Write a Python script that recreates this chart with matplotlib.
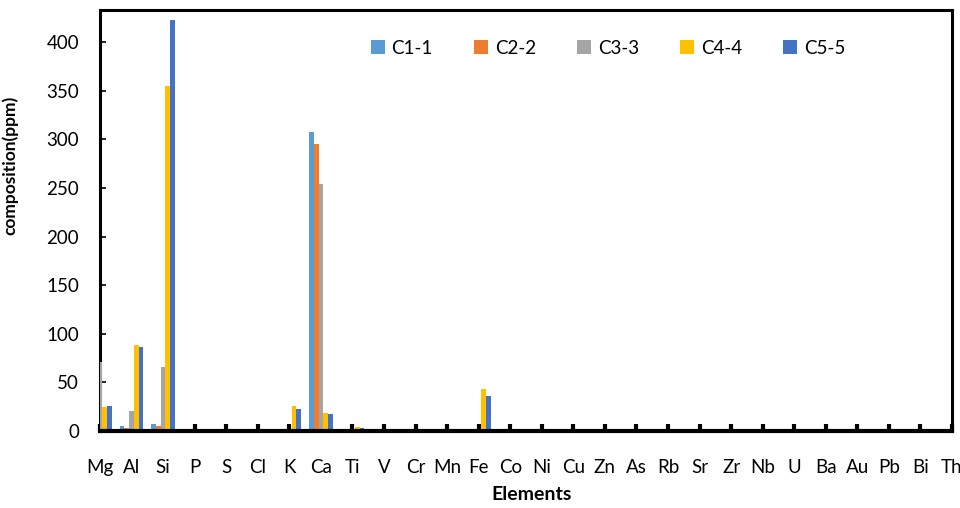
import numpy as np
import matplotlib
matplotlib.use("Agg")
import matplotlib.pyplot as plt

# -------------------------------
# DATA
# -------------------------------

elements = ["Mg", "Al", "Si", "P", "S", "Cl", "K", "Ca", "Ti", "V", "Cr", "Mn", "Fe",
            "Co", "Ni", "Cu", "Zn", "As", "Rb", "Sr", "Zr", "Nb", "U", "Ba", "Au",
            "Pb", "Bi", "Th"]

series_names = ["C1-1", "C2-2", "C3-3", "C4-4", "C5-5"]

c1 = [0, 5.5, 7, 0, 0, 0, 0, 308, 0, 0, 0, 0, 0, 0, 0, 0, 0, 0, 0, 0, 0, 0, 0, 0, 0, 0, 0, 0]
c2 = [0, 3, 5.5, 0, 0, 0, 0, 295, 0, 0, 0, 0, 0, 0, 0, 0, 0, 0, 0, 0, 0, 0, 0, 0, 0, 0, 0, 0]
c3 = [71, 21, 65.5, 0, 0, 0, 0, 254, 0, 0, 0, 0, 0, 0, 0, 0, 0, 0, 0, 0, 0, 0, 0, 0, 0, 0, 0, 0]
c4 = [24.5, 88, 355, 0, 2, 0, 26, 19, 4.5, 0, 0, 0, 43, 0, 0, 0, 0, 0, 0, 0, 0, 0, 0, 0, 0, 0, 0, 0]
c5 = [25.5, 86, 423, 0, 0, 0, 22.5, 17.5, 3.5, 0, 0, 0, 36.5, 0, 0, 0, 0, 0, 0, 0, 0, 0, 0, 0, 0, 0, 0, 0]

colors = ["#5B9BD5", "#ED7D31", "#A5A5A5", "#FFC000", "#4472C4"]

# -------------------------------
# PLOT
# -------------------------------

plt.rcParams["font.family"] = ["Lato", "DejaVu Sans"]

fig = plt.figure(figsize=(9.6, 5.08), dpi=100)
ax = fig.add_axes([100 / 960, 77 / 508, 852 / 960, 421 / 508])

x = np.arange(len(elements))
w = 0.15
for j, (vals, name) in enumerate(zip([c1, c2, c3, c4, c5], series_names)):
    ax.bar(x + (j - 2) * w, vals, width=w, color=colors[j], label=name, zorder=6)

ax.set_xlim(0, len(elements) - 1)
ax.set_ylim(0, 433)
ax.set_yticks(range(0, 401, 50))
ax.set_xticks(x)
ax.set_xticklabels(elements)

for s in ax.spines.values():
    s.set_linewidth(2.2)
    s.set_zorder(5)
ax.spines["bottom"].set_linewidth(3)
ax.spines["bottom"].set_zorder(7)

ax.tick_params(axis="x", direction="in", length=5, width=3, pad=20, labelsize=13.5)
ax.tick_params(axis="y", direction="in", length=4, width=1.2, pad=15, labelsize=13.5)

ax.set_ylabel("composition(ppm)", fontsize=12.5, fontweight="bold")
ax.yaxis.set_label_coords(-0.096, 0.63)
fig.text(532 / 960, 1 - 494 / 508, "Elements", ha="center", va="center",
         fontsize=14, fontweight="bold")

ax.legend(loc="center", bbox_to_anchor=(608 / 960, 1 - 48 / 508),
          bbox_transform=fig.transFigure, ncol=5, frameon=False,
          fontsize=13.5, handlelength=0.75, handleheight=0.75,
          handletextpad=0.35, columnspacing=2.2)

fig.savefig("out.png", dpi=100)
